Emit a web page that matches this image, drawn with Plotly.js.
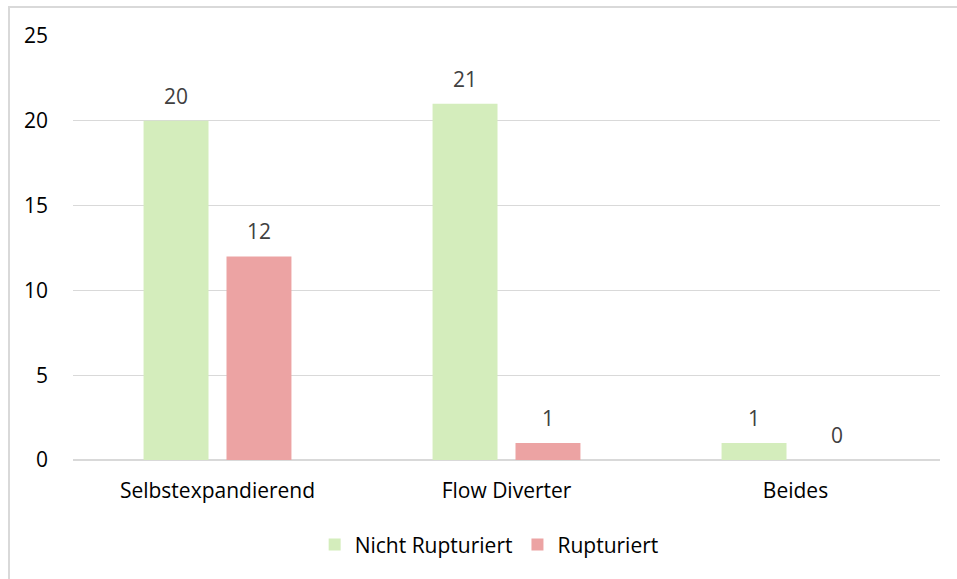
<!DOCTYPE html>
<html>
<head>
<meta charset="utf-8">
<script src="https://cdn.plot.ly/plotly-3.0.1.min.js"></script>
<style>
html,body{margin:0;padding:0;background:#fff;}
#wrap{position:relative;width:957px;height:579px;overflow:hidden;}
#chart{position:absolute;left:0;top:0;width:957px;height:579px;}
#frame{position:absolute;left:8px;top:6px;width:1000px;height:700px;border-left:2px solid #d9d9d9;border-top:2px solid #d9d9d9;pointer-events:none;}
</style>
</head>
<body>
<div id="wrap"><div id="chart"></div><div id="frame"></div></div>
<script>
const categories = ["Selbstexpandierend", "Flow Diverter", "Beides"];
const seriesNames = ["Nicht Rupturiert", "Rupturiert"];
const nichtRupturiert = [20, 21, 1];
const rupturiert = [12, 1, 0];
const yTicks = [0, 5, 10, 15, 20, 25];

const FONT = "'Open Sans', 'Noto Sans', sans-serif";
const FS = 21;
const colors = ["#d4edbc", "#eca3a3"];
const seriesValues = [nichtRupturiert, rupturiert];

const traces = seriesValues.map((vals, i) => ({
  type: "bar",
  name: seriesNames[i],
  x: categories,
  y: vals,
  marker: {color: colors[i]},
  hoverinfo: "skip"
}));

const plotW = 957 - 73 - 17;
const catW = plotW / categories.length;
const bargap = 0.426, bargroupgap = 0.217;
const slot = catW * (1 - bargap) / 2;
const annotations = [];
seriesValues.forEach((vals, i) => {
  vals.forEach((v, j) => {
    annotations.push({
      x: categories[j], y: v, xref: "x", yref: "y",
      xshift: (i === 0 ? -1 : 1) * slot / 2,
      yshift: 25, yanchor: "middle", xanchor: "center",
      text: String(v), showarrow: false,
      font: {family: FONT, size: FS, color: "#404040"}
    });
  });
});

const layout = {
  width: 957, height: 579,
  margin: {l: 73, r: 17, t: 36, b: 119},
  paper_bgcolor: "#fff", plot_bgcolor: "#fff",
  barmode: "group", bargap: bargap, bargroupgap: bargroupgap,
  font: {family: FONT, size: FS, color: "#000"},
  xaxis: {
    type: "category", showgrid: false, zeroline: false,
    showline: false, ticks: "", tickfont: {family: FONT, size: FS, color: "#000"},
    ticklabelstandoff: 16
  },
  yaxis: {
    range: [0, 25], tickvals: yTicks, showgrid: true, gridcolor: "#d9d9d9", gridwidth: 1,
    zeroline: true, zerolinecolor: "#d9d9d9", zerolinewidth: 1.5,
    showline: false, ticks: "", tickfont: {family: FONT, size: FS, color: "#000"},
    ticklabelstandoff: 24
  },
  legend: {
    orientation: "h", x: 0.48, xanchor: "center", y: -0.2, yanchor: "middle",
    font: {family: FONT, size: FS, color: "#000"}, traceorder: "normal"
  },
  annotations: annotations,
  showlegend: true
};

Plotly.newPlot("chart", traces, layout, {displayModeBar: false, staticPlot: true});
</script>
</body>
</html>
